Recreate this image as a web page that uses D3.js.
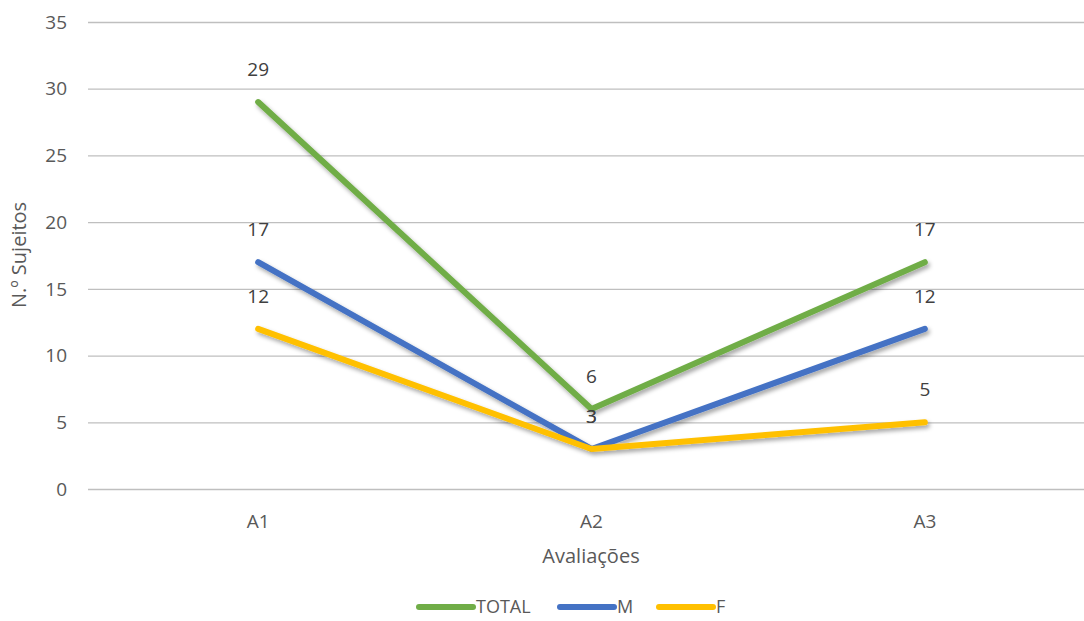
<!DOCTYPE html>
<html>
<head>
<meta charset="utf-8">
<script src="https://cdn.jsdelivr.net/npm/d3@7"></script>
<style>
  body { margin: 0; background: #fff; }
  svg { display: block; font-family: "Open Sans", "Noto Sans", sans-serif; }
</style>
</head>
<body>
<svg id="chart" width="1084" height="621"></svg>
<script>
// Evaluations and counts per group
const categories = ["A1", "A2", "A3"];
const totalValues = [29, 6, 17];
const mValues = [17, 3, 12];
const fValues = [12, 3, 5];
const yTicks = [0, 5, 10, 15, 20, 25, 30, 35];
const seriesNames = ["TOTAL", "M", "F"];
const seriesColors = ["#70AD47", "#4472C4", "#FFC000"];

const series = [
  { name: seriesNames[0], values: totalValues, color: seriesColors[0] },
  { name: seriesNames[1], values: mValues, color: seriesColors[1] },
  { name: seriesNames[2], values: fValues, color: seriesColors[2] }
];

const svg = d3.select("#chart");
const plotLeft = 91.5, plotRight = 1091.5, plotTop = 22, plotBottom = 489;
const fs = 19;

const x = d3.scalePoint().domain(categories).range([plotLeft, plotRight]).padding(0.5);
const y = d3.scaleLinear().domain([0, 35]).range([plotBottom, plotTop]);

// soft drop shadow under the lines
const defs = svg.append("defs");
const f = defs.append("filter").attr("id", "shadow")
  .attr("x", "-10%").attr("y", "-10%").attr("width", "120%").attr("height", "130%");
f.append("feDropShadow").attr("dx", 2).attr("dy", 3).attr("stdDeviation", 2)
  .attr("flood-color", "#000").attr("flood-opacity", 0.35);

// horizontal gridlines
svg.append("g").selectAll("line").data(yTicks).join("line")
  .attr("x1", 88).attr("x2", 1084)
  .attr("y1", d => y(d) + 0.5).attr("y2", d => y(d) + 0.5)
  .attr("stroke", "#BFBFBF").attr("stroke-width", 1.3);

// y axis tick labels
svg.append("g").selectAll("text").data(yTicks).join("text")
  .attr("x", 67).attr("y", d => y(d)).attr("dy", "0.35em")
  .attr("text-anchor", "end").attr("font-size", fs).attr("fill", "#595959")
  .text(d => d);

// x axis labels
svg.append("g").selectAll("text").data(categories).join("text")
  .attr("x", d => x(d)).attr("y", 521).attr("dy", "0.35em")
  .attr("text-anchor", "middle").attr("font-size", fs).attr("fill", "#595959")
  .text(d => d);

// axis titles
svg.append("text").attr("x", 591).attr("y", 556).attr("dy", "0.35em")
  .attr("text-anchor", "middle").attr("font-size", fs + 1).attr("fill", "#595959")
  .text("Avaliações");
svg.append("text").attr("transform", "translate(19,255) rotate(-90)").attr("dy", "0.35em")
  .attr("text-anchor", "middle").attr("font-size", fs + 1).attr("fill", "#595959")
  .text("N.º Sujeitos");

// series lines
const line = d3.line().x((d, i) => x(categories[i])).y(d => y(d));
svg.append("g").attr("filter", "url(#shadow)").selectAll("path").data(series).join("path")
  .attr("d", d => line(d.values))
  .attr("fill", "none").attr("stroke", d => d.color)
  .attr("stroke-width", 6).attr("stroke-linecap", "round").attr("stroke-linejoin", "round");

// data labels above each point
series.forEach(s => {
  svg.append("g").selectAll("text").data(s.values).join("text")
    .attr("x", (d, i) => x(categories[i])).attr("y", d => y(d) - 33).attr("dy", "0.35em")
    .attr("text-anchor", "middle").attr("font-size", fs).attr("fill", "#404040")
    .text(d => d);
});

// legend
const legendItems = [
  { name: seriesNames[0], color: seriesColors[0], x: 417 },
  { name: seriesNames[1], color: seriesColors[1], x: 558 },
  { name: seriesNames[2], color: seriesColors[2], x: 657 }
];
const lg = svg.append("g").selectAll("g").data(legendItems).join("g")
  .attr("transform", d => `translate(${d.x},607)`);
lg.append("line").attr("x1", 2).attr("x2", 56).attr("y1", 0).attr("y2", 0)
  .attr("stroke", d => d.color).attr("stroke-width", 6).attr("stroke-linecap", "round");
lg.append("text").attr("x", 59).attr("dy", "0.35em").attr("font-size", 18)
  .attr("fill", "#595959").text(d => d.name);
</script>
</body>
</html>
